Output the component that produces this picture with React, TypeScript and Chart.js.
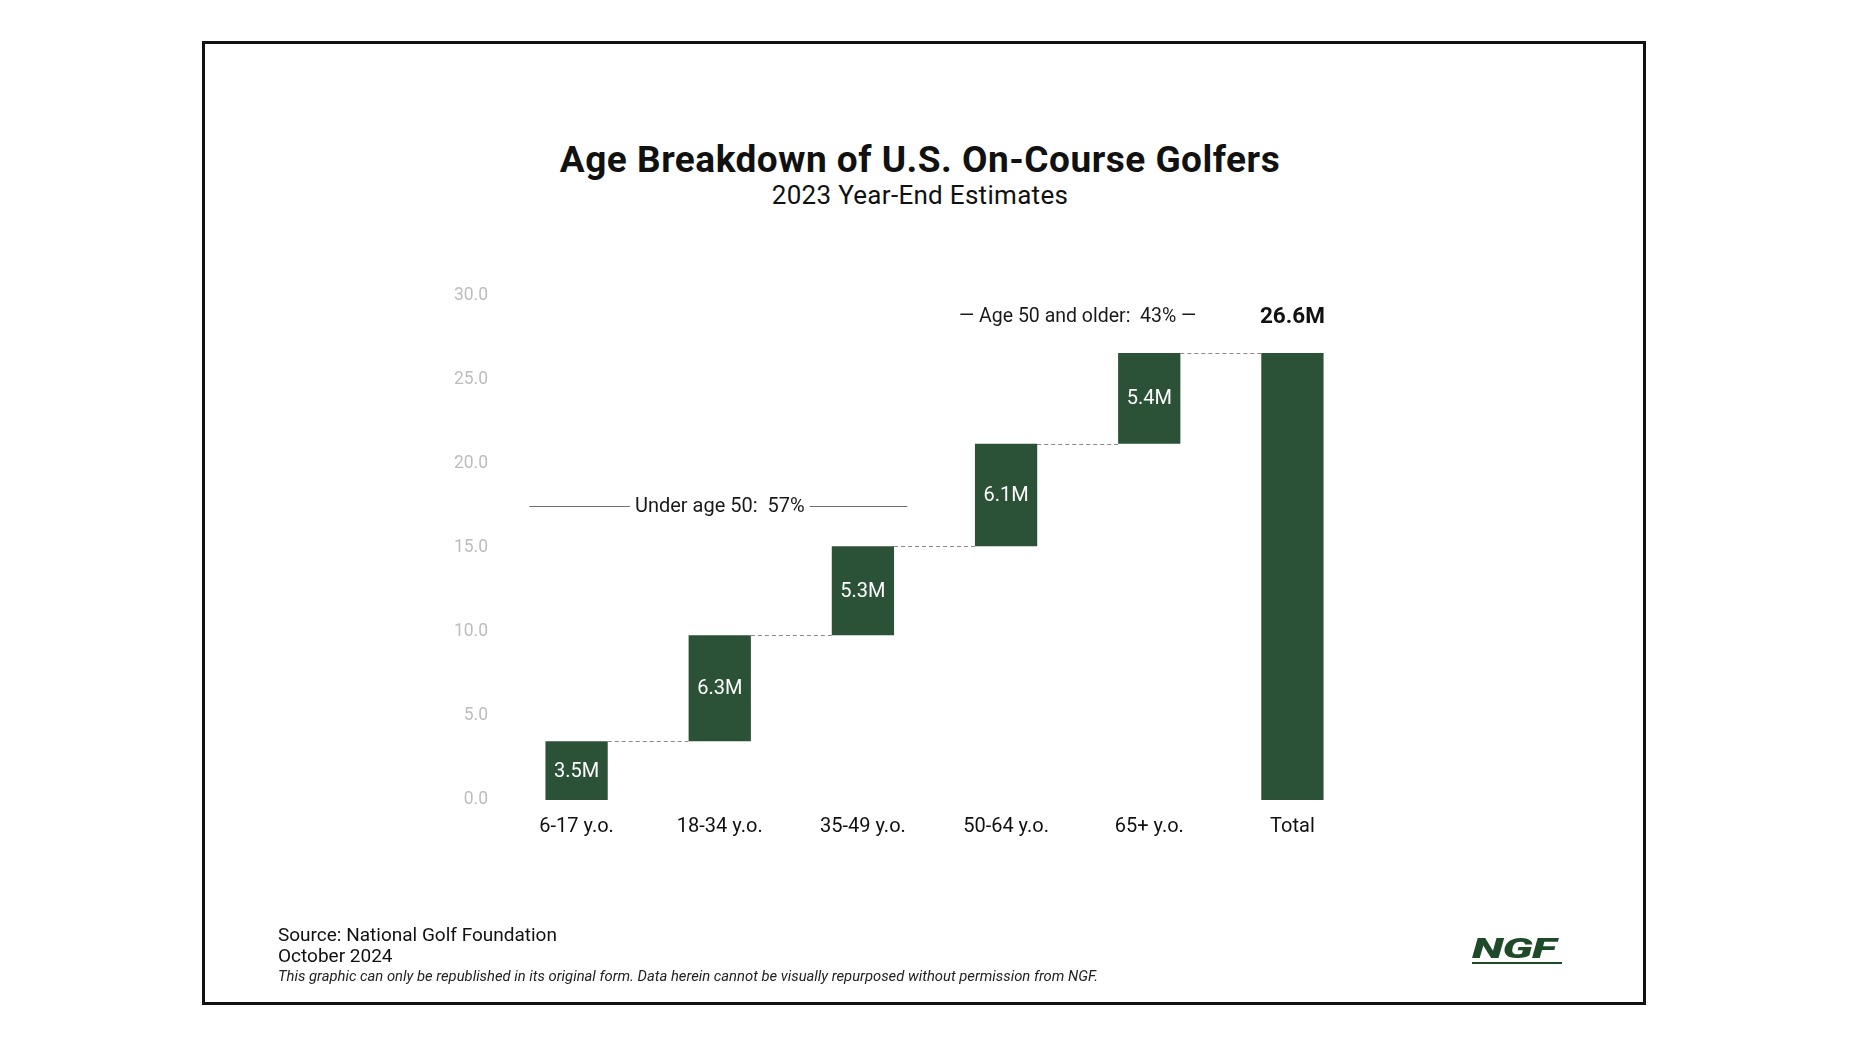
import React, { useEffect, useRef } from "react";
import { Chart, registerables } from "chart.js";

Chart.register(...registerables);

// ---- Data ----
const categories: string[] = ["6-17 y.o.", "18-34 y.o.", "35-49 y.o.", "50-64 y.o.", "65+ y.o.", "Total"];
const increments: number[] = [3.5, 6.3, 5.3, 6.1, 5.4];
const totalValue = 26.6;
const barLabels: string[] = ["3.5M", "6.3M", "5.3M", "6.1M", "5.4M"];
const totalLabel = "26.6M";
const yMin = 0;
const yMax = 30;
const yStep = 5;

const underText = "Under age 50:  57%";
const underValue = 17.5; // y-level of the bracket
const underFrom = -0.33; // category index range of the bracket line
const underTo = 2.31;
const underCenter = 1;

const olderText = "\u2014 Age 50 and older:  43% \u2014";
const olderValue = 28.8;
const olderCenter = 3.5;

const titleText = "Age Breakdown of U.S. On-Course Golfers";
const subtitleText = "2023 Year-End Estimates";
const sourceText = "Source: National Golf Foundation";
const dateText = "October 2024";
const disclaimerText =
  "This graphic can only be republished in its original form. Data herein cannot be visually repurposed without permission from NGF.";

const BAR_COLOR = "#2b5237";
const FONT = "Roboto, 'Noto Sans', sans-serif";

const decorPlugin = {
  id: "waterfallDecor",
  afterDatasetsDraw(chart: any) {
    const ctx = chart.ctx;
    const meta = chart.getDatasetMeta(0);
    const bars = meta.data;
    const xs = chart.scales.x;
    const ys = chart.scales.y;
    const data = chart.data.datasets[0].data as number[][];

    ctx.save();
    // dashed connectors
    ctx.strokeStyle = "#8a8a8a";
    ctx.lineWidth = 1;
    ctx.setLineDash([4, 3]);
    for (let i = 0; i < bars.length - 1; i++) {
      const a = bars[i];
      const b = bars[i + 1];
      const yy = Math.round(ys.getPixelForValue(data[i][1])) + 0.5;
      ctx.beginPath();
      ctx.moveTo(a.x + a.width / 2, yy);
      ctx.lineTo(b.x - b.width / 2, yy);
      ctx.stroke();
    }
    ctx.setLineDash([]);

    // labels inside bars
    ctx.fillStyle = "#ffffff";
    ctx.font = `20px ${FONT}`;
    ctx.textAlign = "center";
    ctx.textBaseline = "middle";
    for (let i = 0; i < barLabels.length; i++) {
      const el = bars[i];
      ctx.fillText(barLabels[i], el.x, (el.y + el.base) / 2 + 1);
    }

    // total label above
    ctx.fillStyle = "#111111";
    ctx.font = `bold 22.5px ${FONT}`;
    ctx.fillText(totalLabel, xs.getPixelForValue(categories.length - 1), ys.getPixelForValue(olderValue) + 1);

    // Under age 50 bracket
    ctx.font = `20px ${FONT}`;
    const uy = ys.getPixelForValue(underValue);
    const ucx = xs.getPixelForValue(underCenter);
    const uw = ctx.measureText(underText).width;
    ctx.fillStyle = "#1a1a1a";
    ctx.fillText(underText, ucx, uy + 1);
    ctx.strokeStyle = "#6f6f6f";
    ctx.lineWidth = 1;
    const ly = Math.round(uy) + 0.5;
    ctx.beginPath();
    ctx.moveTo(xs.getPixelForValue(underFrom), ly);
    ctx.lineTo(ucx - uw / 2 - 5, ly);
    ctx.moveTo(ucx + uw / 2 + 5, ly);
    ctx.lineTo(xs.getPixelForValue(underTo), ly);
    ctx.stroke();

    // Age 50 and older
    ctx.font = `19.5px ${FONT}`;
    ctx.fillText(olderText, xs.getPixelForValue(olderCenter), ys.getPixelForValue(olderValue) + 1);
    ctx.restore();
  },
};

function WaterfallChart() {
  const ref = useRef<HTMLCanvasElement | null>(null);
  useEffect(() => {
    if (!ref.current) return;
    let acc = 0;
    const floating: number[][] = increments.map((v) => {
      const r = [acc, +(acc + v).toFixed(2)];
      acc += v;
      return r;
    });
    floating.push([0, totalValue]);

    const chart = new Chart(ref.current, {
      type: "bar",
      data: {
        labels: categories,
        datasets: [
          {
            data: floating as any,
            backgroundColor: BAR_COLOR,
            borderWidth: 0,
            borderSkipped: false,
            categoryPercentage: 1,
            barPercentage: 0.435,
          },
        ],
      },
      options: {
        animation: false,
        responsive: false,
        maintainAspectRatio: false,
        layout: { padding: { left: 400, right: 492, top: 296, bottom: 204 } },
        plugins: { legend: { display: false }, tooltip: { enabled: false }, title: { display: false } },
        scales: {
          x: {
            grid: { display: false, drawTicks: false },
            border: { display: false },
            ticks: { color: "#111111", font: { family: FONT, size: 20 }, padding: 15 },
            afterFit: (s: any) => {
              s.height = 40;
            },
          },
          y: {
            min: yMin,
            max: yMax,
            grid: { display: false, drawTicks: false },
            border: { display: false },
            ticks: {
              stepSize: yStep,
              color: "#bdbdbd",
              font: { family: FONT, size: 17.5 },
              padding: 17,
              callback: (v: any) => Number(v).toFixed(1),
            },
            afterFit: (s: any) => {
              s.width = 105;
            },
          },
        },
      },
      plugins: [decorPlugin],
    });
    return () => chart.destroy();
  }, []);
  return (
    <canvas
      ref={ref}
      width={1856}
      height={1044}
      style={{ position: "absolute", left: 0, top: 0, width: 1856, height: 1044 }}
    />
  );
}

export default function App() {
  const abs = (top: number, size: number, extra: React.CSSProperties = {}): React.CSSProperties => ({
    position: "absolute",
    top,
    fontSize: size,
    lineHeight: `${size}px`,
    fontFamily: FONT,
    whiteSpace: "nowrap",
    ...extra,
  });
  return (
    <div style={{ position: "absolute", left: 0, top: 0, width: 1856, height: 1044, background: "#fff", overflow: "hidden" }}>
      <div
        style={{
          position: "absolute",
          left: 202,
          top: 41,
          width: 1444,
          height: 964,
          boxSizing: "border-box",
          border: "3px solid #111",
        }}
      />
      <div
        style={abs(141, 37, {
          left: 0,
          width: 1840,
          textAlign: "center",
          fontWeight: 700,
          color: "#111",
          letterSpacing: 0.5,
        })}
      >
        {titleText}
      </div>
      <div style={abs(182, 26, { left: 0, width: 1840, textAlign: "center", color: "#111", letterSpacing: 0.3 })}>
        {subtitleText}
      </div>
      <WaterfallChart />
      <div style={abs(925, 19, { left: 278, color: "#111" })}>{sourceText}</div>
      <div style={abs(946, 19, { left: 278, color: "#111" })}>{dateText}</div>
      <div style={abs(969, 14.8, { left: 278, color: "#222", fontStyle: "italic" })}>{disclaimerText}</div>
      <div
        style={abs(936, 27, {
          left: 1472,
          color: "#1e4a29",
          fontWeight: 900,
          fontStyle: "italic",
          letterSpacing: -0.5,
          transform: "scaleX(1.7)",
          transformOrigin: "left top",
        })}
      >
        NGF
      </div>
      <div
        style={{
          position: "absolute",
          left: 1472,
          top: 962,
          width: 90,
          height: 2,
          background: "#1e4a29",
        }}
      />
    </div>
  );
}
